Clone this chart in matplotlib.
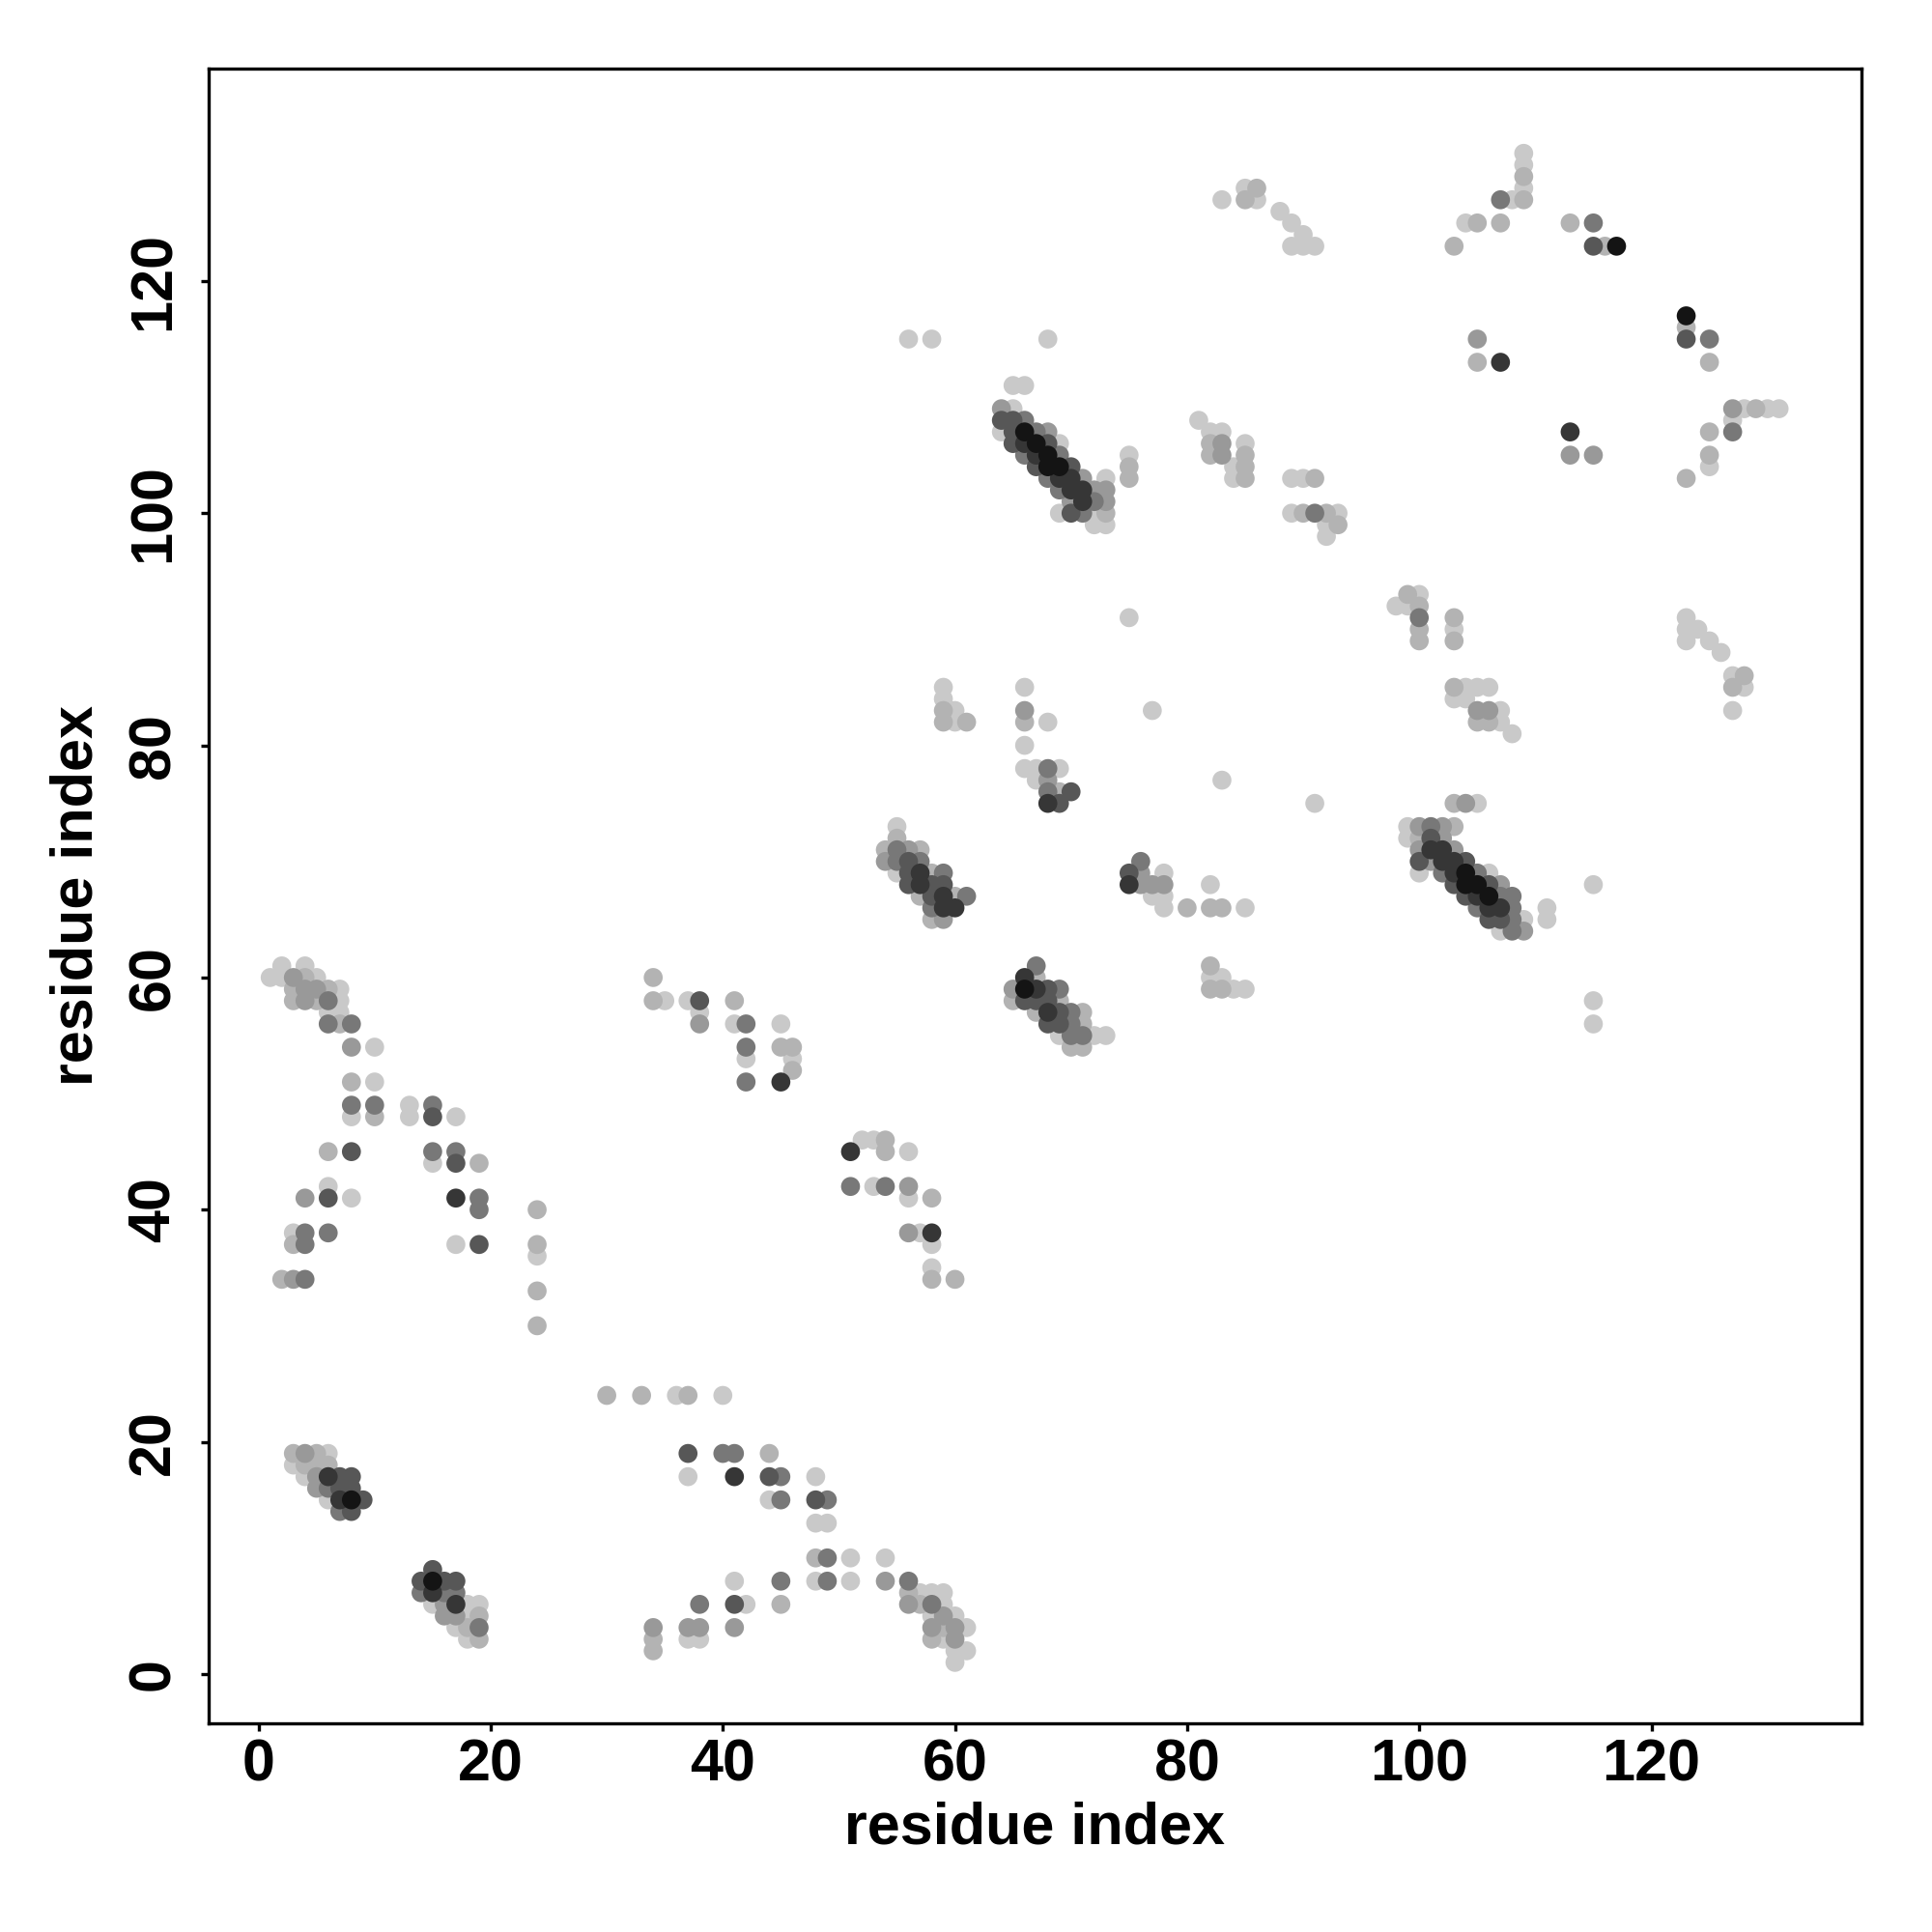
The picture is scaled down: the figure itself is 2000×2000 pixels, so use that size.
import numpy as np
import matplotlib
matplotlib.use("Agg")
import matplotlib.pyplot as plt

plt.rcParams['font.family'] = ['Liberation Sans', 'DejaVu Sans']
plt.rcParams['font.weight'] = 'bold'

# contacts as (residue i, residue j, shade level 1=light .. 7=black)
strand_a = [
    (3, 19, 2), (4, 19, 3), (5, 19, 2), (6, 19, 1),
    (3, 18, 1), (4, 18, 2), (5, 18, 2), (6, 18, 2),
    (4, 17, 1), (5, 17, 3), (6, 17, 6), (7, 17, 5), (8, 17, 5),
    (5, 16, 3), (6, 16, 4), (7, 16, 5), (8, 16, 5),
    (6, 15, 1), (7, 15, 6), (8, 15, 7), (9, 15, 5),
    (7, 14, 4), (8, 14, 5),
]
strand_b = [
    (15, 9, 5),
    (14, 8, 5), (15, 8, 7), (16, 8, 5), (17, 8, 5),
    (14, 7, 4), (15, 7, 6), (16, 7, 4), (17, 7, 4),
    (15, 6, 1), (16, 6, 3), (17, 6, 6), (18, 6, 1), (19, 6, 1),
    (16, 5, 3), (17, 5, 3), (18, 5, 1), (19, 5, 2),
    (17, 4, 1), (18, 4, 2), (19, 4, 4),
    (18, 3, 1), (19, 3, 2),
]
loop_low = [
    (30, 24, 2), (33, 24, 2), (36, 24, 1), (37, 24, 2), (40, 24, 1),
    (37, 19, 5), (40, 19, 4), (41, 19, 4), (44, 19, 2),
    (37, 17, 1), (41, 17, 6), (44, 17, 5), (45, 17, 4), (48, 17, 1),
    (44, 15, 1), (45, 15, 4), (48, 15, 5), (49, 15, 4),
    (48, 13, 1), (49, 13, 1),
    (48, 10, 2), (49, 10, 4), (51, 10, 1), (54, 10, 1),
    (41, 8, 1), (45, 8, 4), (48, 8, 1), (49, 8, 4), (51, 8, 1), (54, 8, 3), (56, 8, 4),
    (38, 6, 4), (41, 6, 5), (42, 6, 1), (45, 6, 2),
    (34, 4, 3), (37, 4, 3), (38, 4, 3), (41, 4, 3),
    (34, 3, 2), (37, 3, 1), (38, 3, 1),
    (34, 2, 2),
    (56, 7, 2), (57, 7, 1), (58, 7, 1), (59, 7, 1),
    (56, 6, 3), (57, 6, 2), (58, 6, 4), (59, 6, 1),
    (58, 5, 1), (59, 5, 3), (60, 5, 1),
    (58, 4, 3), (59, 4, 2), (60, 4, 3), (61, 4, 1),
    (58, 3, 2), (59, 3, 1), (60, 3, 3),
    (60, 2, 1), (61, 2, 1),
    (60, 1, 1),
]
helix_left = [
    (2, 61, 1), (4, 61, 1),
    (1, 60, 1), (2, 60, 1), (3, 60, 3), (4, 60, 2), (5, 60, 1),
    (3, 59, 2), (4, 59, 3), (5, 59, 3), (6, 59, 2), (7, 59, 1),
    (3, 58, 2), (4, 58, 3), (5, 58, 2), (6, 58, 4), (7, 58, 1),
    (6, 57, 1), (7, 57, 1),
    (6, 56, 4), (7, 56, 2), (8, 56, 4),
    (8, 54, 3), (10, 54, 1),
    (8, 51, 2), (10, 51, 1),
    (8, 49, 4), (10, 49, 4), (13, 49, 1), (15, 49, 4),
    (8, 48, 1), (10, 48, 2), (13, 48, 1), (15, 48, 5), (17, 48, 1),
    (6, 45, 2), (8, 45, 5), (15, 45, 4), (17, 45, 4),
    (15, 44, 1), (17, 44, 5), (19, 44, 2),
    (6, 42, 1),
    (4, 41, 3), (6, 41, 5), (8, 41, 1), (17, 41, 6), (19, 41, 4),
    (19, 40, 4), (24, 40, 2),
    (3, 38, 1), (4, 38, 4), (6, 38, 4),
    (3, 37, 2), (4, 37, 4), (17, 37, 1), (19, 37, 5), (24, 37, 2),
    (24, 36, 1),
    (2, 34, 2), (3, 34, 3), (4, 34, 4),
    (24, 33, 2), (24, 30, 2),
]
middle = [
    (34, 60, 2),
    (34, 58, 2), (35, 58, 1), (37, 58, 1), (38, 58, 5), (41, 58, 2),
    (38, 57, 1),
    (38, 56, 3), (41, 56, 1), (42, 56, 4), (45, 56, 1),
    (42, 54, 4), (45, 54, 2), (46, 54, 2),
    (42, 53, 1), (46, 53, 1), (46, 52, 2),
    (42, 51, 4), (45, 51, 6),
    (52, 46, 1), (53, 46, 1), (54, 46, 2),
    (51, 45, 6), (54, 45, 2), (56, 45, 1),
    (51, 42, 4), (53, 42, 1), (54, 42, 4), (56, 42, 3),
    (56, 41, 1), (58, 41, 2),
    (56, 38, 3), (57, 38, 1), (58, 38, 6),
    (58, 37, 1), (58, 35, 1), (58, 34, 2), (60, 34, 2),
]
center = [
    (59, 85, 1), (66, 85, 1), (59, 84, 1),
    (59, 83, 2), (60, 83, 1), (66, 83, 3), (77, 83, 1),
    (59, 82, 2), (60, 82, 1), (61, 82, 2), (66, 82, 2), (68, 82, 1),
    (66, 80, 1),
    (66, 78, 1), (67, 78, 1), (68, 78, 4), (69, 78, 1),
    (67, 77, 1), (68, 77, 3),
    (68, 76, 4), (69, 76, 2), (70, 76, 5),
    (68, 75, 6), (69, 75, 5),
    (55, 73, 1), (55, 72, 2),
    (54, 71, 2), (55, 71, 4), (56, 71, 3), (57, 71, 2),
    (54, 70, 3), (55, 70, 4), (56, 70, 5), (57, 70, 4),
    (55, 69, 1), (56, 69, 5), (57, 69, 6), (58, 69, 2), (59, 69, 4),
    (56, 68, 5), (57, 68, 6), (58, 68, 5), (59, 68, 5),
    (57, 67, 2), (58, 67, 5), (59, 67, 6), (60, 67, 2), (61, 67, 4),
    (58, 66, 4), (59, 66, 6), (60, 66, 6),
    (58, 65, 2), (59, 65, 3),
    (76, 70, 4),
    (75, 69, 5), (76, 69, 3), (78, 69, 1),
    (75, 68, 6), (76, 68, 3), (77, 68, 3), (78, 68, 3),
    (77, 67, 1), (78, 67, 1), (78, 66, 1), (80, 66, 2),
    (67, 61, 4),
    (66, 60, 6), (67, 60, 2),
    (65, 59, 3), (66, 59, 7), (67, 59, 6), (68, 59, 5), (69, 59, 4),
    (65, 58, 2), (66, 58, 5), (67, 58, 5), (68, 58, 5), (69, 58, 2),
    (67, 57, 2), (68, 57, 6), (69, 57, 5), (70, 57, 4), (71, 57, 2),
    (68, 56, 5), (69, 56, 5), (70, 56, 4), (71, 56, 2),
    (69, 55, 1), (70, 55, 4), (71, 55, 4), (72, 55, 1), (73, 55, 1),
    (70, 54, 2), (71, 54, 2),
    (83, 77, 1), (91, 75, 1), (82, 68, 1),
    (82, 66, 2), (83, 66, 2), (85, 66, 1),
    (82, 61, 2), (82, 60, 1), (83, 60, 1),
    (82, 59, 2), (83, 59, 2), (84, 59, 1), (85, 59, 1),
    (75, 91, 1),
]
upper_mid = [
    (56, 115, 1), (58, 115, 1), (68, 115, 1),
    (65, 111, 1), (66, 111, 1),
    (64, 109, 3), (65, 109, 1),
    (64, 108, 5), (65, 108, 5), (66, 108, 4),
    (64, 107, 1), (65, 107, 5), (66, 107, 7), (67, 107, 4), (68, 107, 3),
    (65, 106, 5), (66, 106, 6), (67, 106, 7), (68, 106, 5), (69, 106, 1),
    (66, 105, 4), (67, 105, 6), (68, 105, 7), (69, 105, 4),
    (67, 104, 5), (68, 104, 7), (69, 104, 7), (70, 104, 5),
    (68, 103, 4), (69, 103, 6), (70, 103, 6), (71, 103, 3), (73, 103, 1),
    (69, 102, 4), (70, 102, 6), (71, 102, 6), (72, 102, 3), (73, 102, 3),
    (70, 101, 3), (71, 101, 6), (72, 101, 4), (73, 101, 3),
    (69, 100, 1), (70, 100, 5), (71, 100, 4), (72, 100, 1), (73, 100, 2),
    (72, 99, 1), (73, 99, 1),
    (75, 105, 1), (75, 104, 2), (75, 103, 2),
    (81, 108, 1), (82, 107, 1), (83, 107, 1),
    (82, 106, 2), (83, 106, 3), (85, 106, 1),
    (82, 105, 2), (83, 105, 3), (85, 105, 2),
    (84, 104, 1), (85, 104, 2), (84, 103, 1), (85, 103, 2),
    (89, 103, 1), (90, 103, 1), (91, 103, 2),
    (89, 100, 1), (90, 100, 2), (91, 100, 4), (92, 100, 2), (93, 100, 1),
    (92, 99, 1), (93, 99, 2), (92, 98, 1),
]
right_low = [
    (99, 93, 2), (100, 93, 1), (98, 92, 1), (99, 92, 1), (100, 92, 2),
    (100, 91, 4), (100, 90, 2), (100, 89, 2),
    (103, 91, 2), (103, 90, 1), (103, 89, 2),
    (103, 85, 2), (104, 85, 1), (105, 85, 1), (106, 85, 1),
    (103, 84, 1), (104, 84, 1),
    (105, 83, 3), (106, 83, 3), (107, 83, 1),
    (105, 82, 2), (106, 82, 2), (107, 82, 1), (108, 81, 1),
    (103, 75, 2), (104, 75, 3), (105, 75, 1),
    (99, 73, 1), (100, 73, 3), (101, 73, 4), (102, 73, 3), (103, 73, 2),
    (99, 72, 1), (100, 72, 2), (101, 72, 5), (102, 72, 3),
    (100, 71, 3), (101, 71, 6), (102, 71, 6), (103, 71, 3),
    (100, 70, 5), (101, 70, 3), (102, 70, 6), (103, 70, 6), (104, 70, 5),
    (100, 69, 1), (102, 69, 4), (103, 69, 6), (104, 69, 7), (105, 69, 4), (106, 69, 1),
    (103, 68, 5), (104, 68, 7), (105, 68, 7), (106, 68, 5), (107, 68, 3),
    (104, 67, 5), (105, 67, 6), (106, 67, 7), (107, 67, 4), (108, 67, 4),
    (105, 66, 4), (106, 66, 6), (107, 66, 6), (108, 66, 4), (111, 66, 1),
    (106, 65, 5), (107, 65, 5), (108, 65, 4), (109, 65, 1), (111, 65, 1),
    (107, 64, 1), (108, 64, 4), (109, 64, 3),
    (115, 68, 1), (115, 58, 1), (115, 56, 1),
    (123, 91, 1), (123, 90, 1), (124, 90, 1), (123, 89, 1), (125, 89, 1), (126, 88, 1),
    (127, 86, 1), (128, 86, 2), (127, 85, 2), (128, 85, 1), (127, 83, 1),
]
top = [
    (83, 127, 1), (85, 128, 1), (86, 128, 2), (85, 127, 2), (86, 127, 1),
    (88, 126, 1), (89, 125, 1), (90, 124, 1), (89, 123, 1), (90, 123, 1), (91, 123, 1),
    (109, 131, 1), (109, 130, 1), (109, 129, 2), (109, 128, 1), (109, 127, 2),
    (108, 127, 1), (107, 127, 4),
    (104, 125, 1), (105, 125, 2), (107, 125, 2), (103, 123, 2),
    (113, 125, 2), (115, 125, 4), (115, 123, 5), (116, 123, 2), (117, 123, 7),
    (123, 117, 7), (123, 116, 2), (123, 115, 5), (125, 115, 4), (125, 113, 2),
    (105, 115, 3), (105, 113, 2), (107, 113, 6),
    (113, 107, 6), (113, 105, 3), (115, 105, 3),
    (127, 109, 3), (128, 109, 1), (129, 109, 2), (130, 109, 1), (131, 109, 1),
    (127, 108, 1), (125, 107, 2), (127, 107, 4),
    (125, 105, 2), (125, 104, 1), (123, 103, 2),
]

contacts = np.array(strand_a + strand_b + loop_low + helix_left + middle
                    + center + upper_mid + right_low + top, dtype=float)
contacts = contacts[np.argsort(contacts[:, 2], kind="stable")]

shade = {1: 0.79, 2: 0.70, 3: 0.60, 4: 0.47, 5: 0.34, 6: 0.21, 7: 0.08}
colors = [str(shade[int(v)]) for v in contacts[:, 2]]

fig = plt.figure(figsize=(10, 10), dpi=200)
ax = fig.add_axes([0.108, 0.108, 0.8555, 0.8565])
ax.scatter(contacts[:, 0], contacts[:, 1], s=50, c=colors, linewidths=0)

ax.set_xlim(-4.3, 138.1)
ax.set_ylim(-4.25, 138.3)
ax.set_xticks(range(0, 121, 20))
ax.set_yticks(range(0, 121, 20))
for sp in ax.spines.values():
    sp.set_linewidth(1.2)
ax.tick_params(length=3, width=1.2, labelsize=22)
ax.tick_params(axis='x', pad=2.5)
ax.tick_params(axis='y', pad=7)
plt.setp(ax.get_yticklabels(), rotation=90, va='center')
ax.set_xlabel('residue index', fontsize=22, fontweight='bold', labelpad=3)
ax.set_ylabel('residue index', fontsize=22, fontweight='bold', labelpad=8)

fig.savefig('out.png', dpi=200)
